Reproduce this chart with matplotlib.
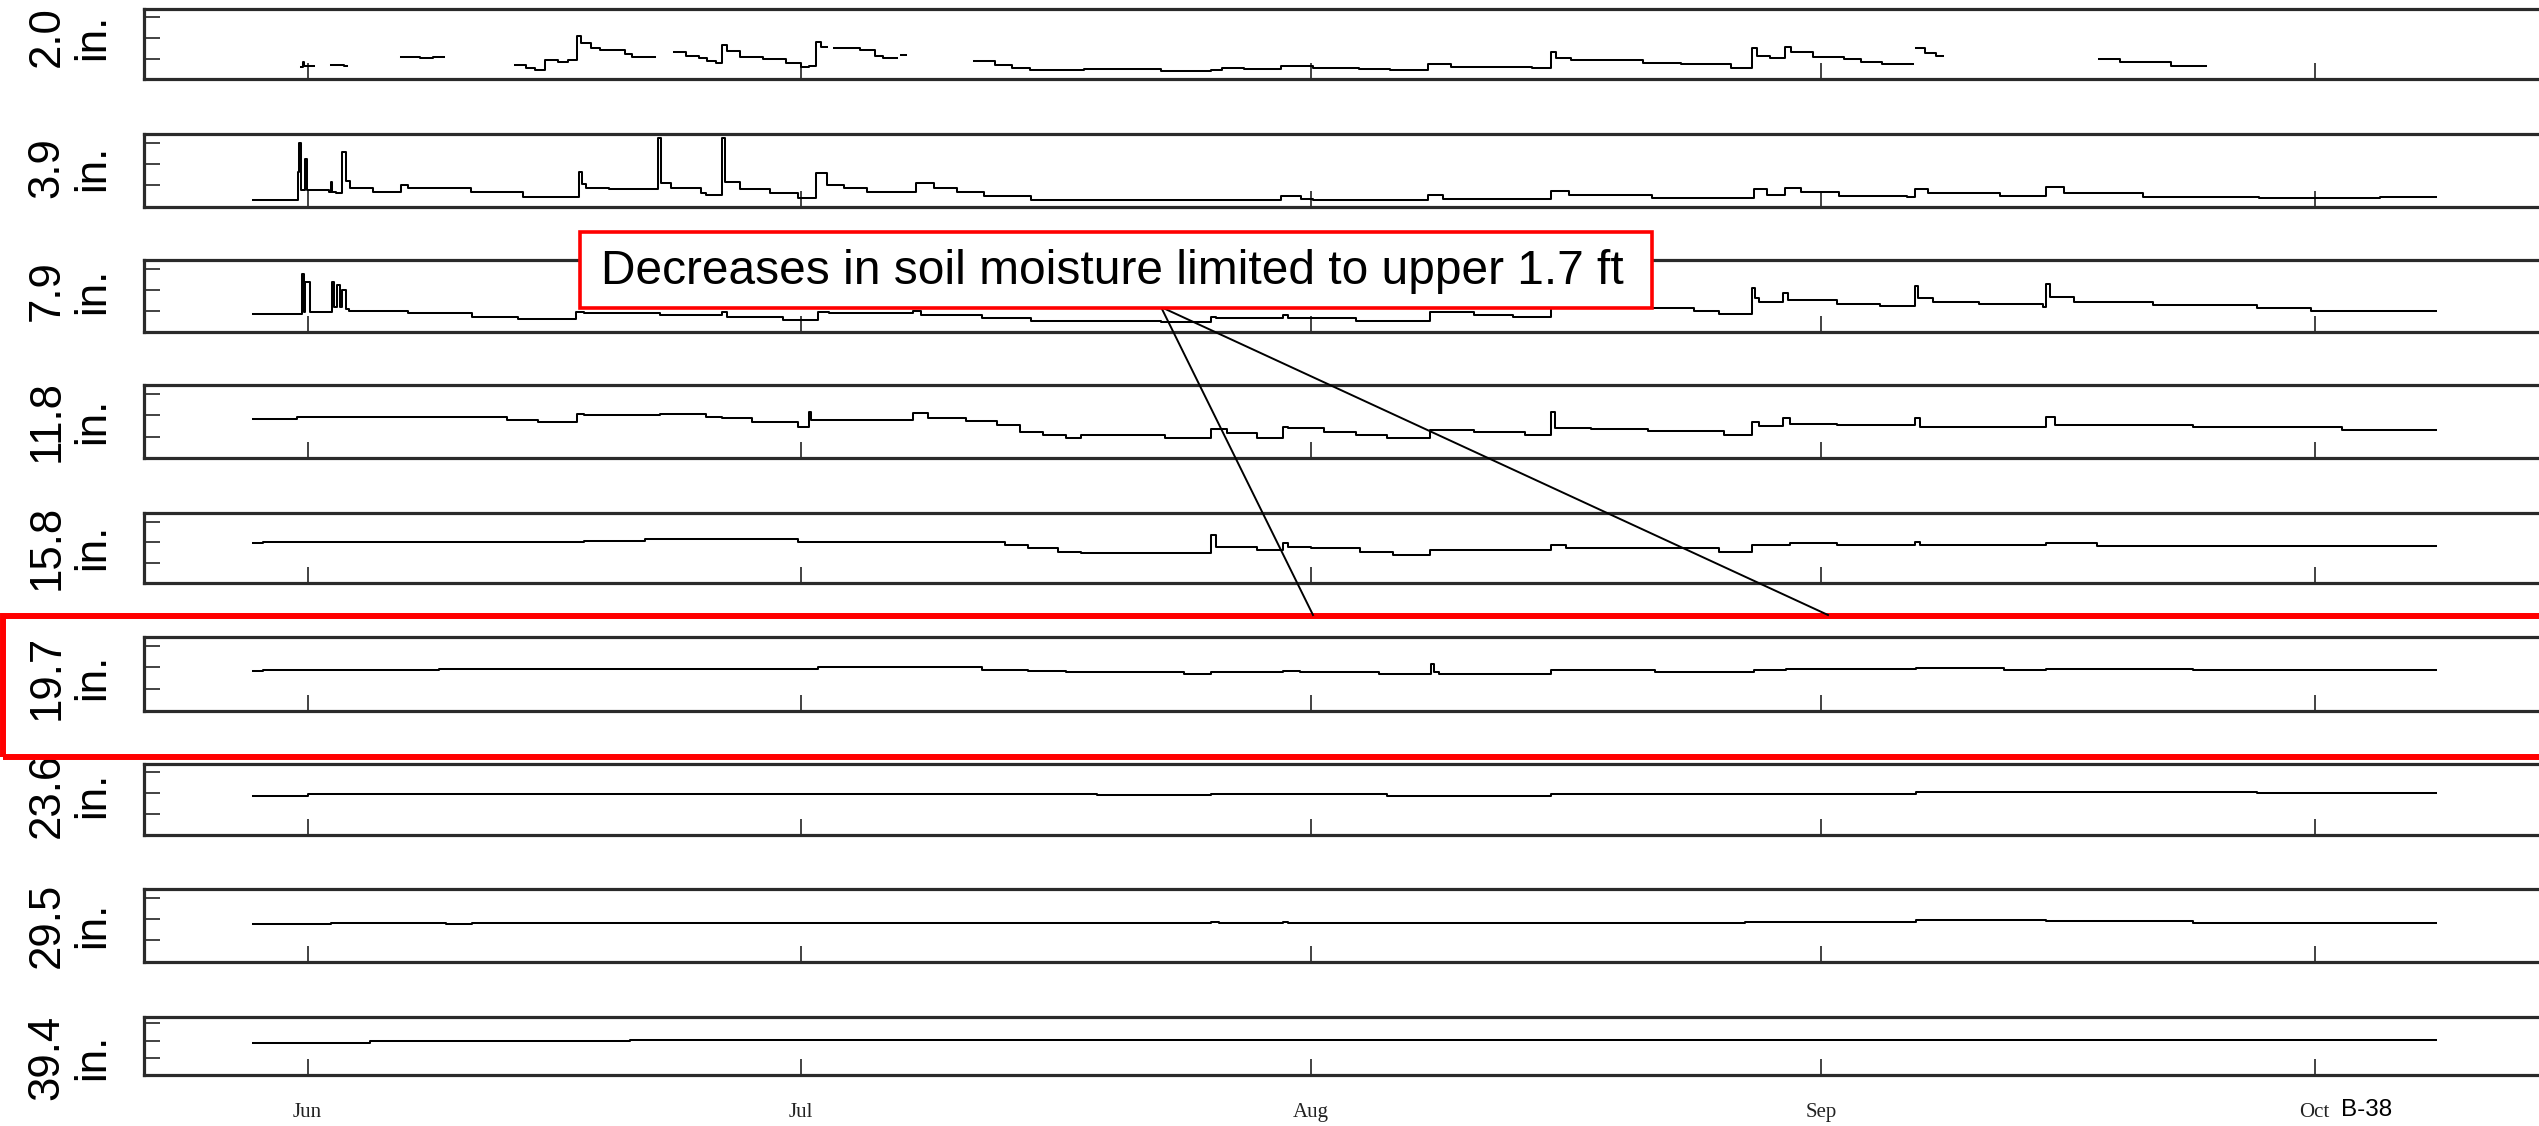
import matplotlib
matplotlib.use('Agg')
import matplotlib.pyplot as plt
from matplotlib import font_manager
from matplotlib.patches import Rectangle
from matplotlib.lines import Line2D
import numpy as np

nan = np.nan

# ---- data: days since 1 Jun, volumetric water content (%) ----
depth_labels = ['2.0\nin.', '3.9\nin.', '7.9\nin.', '11.8\nin.', '15.8\nin.',
                '19.7\nin.', '23.6\nin.', '29.5\nin.', '39.4\nin.']
month_days = [0, 30, 61, 92, 122]
month_names = ['Jun', 'Jul', 'Aug', 'Sep', 'Oct']

d02_day = [-0.4, -0.3, -0.2, 0.4, 1.4, 2.2, 2.4, 5.7, 6.8, 7.6, 8.3,
           12.6, 13.3, 13.8, 14.4, 15.2, 15.8, 16.4, 16.6, 17.2, 17.8, 19.3, 19.7, 21.1,
           22.3, 23.0, 23.8, 24.3, 24.8, 25.2, 25.5, 26.3, 27.7, 29.1, 30.0, 30.5, 30.9, 31.2, 31.6,
           32.0, 33.6, 34.5, 35.0, 35.8, 36.1, 36.4,
           40.5, 41.8, 42.8, 43.9, 47.2, 51.9, 54.9, 55.6, 56.9, 59.2, 61.1, 63.9, 65.8, 68.1,
           69.5, 74.4, 75.6, 75.9, 76.8, 81.2, 83.5, 86.5, 87.8, 88.1, 88.9, 89.8, 90.2, 91.5,
           93.4, 94.4, 95.7, 97.6, 97.8, 98.3, 99.0, 99.4, 108.9, 110.2, 113.3, 115.4]
d02_vwc = [6.1, 8.5, 6.6, nan, 6.9, 6.4, nan, 10.6, 10.2, 10.6, nan,
           6.9, 5.4, 4.5, 9.4, 8.5, 9.1, 20.9, 17.5, 15.0, 14.2, 12.0, 10.9, nan,
           13.4, 11.5, 10.2, 8.8, 7.7, 16.6, 13.5, 10.9, 9.7, 7.7, 6.1, 6.6, 18.2, 15.5, nan,
           15.0, 14.2, 11.5, 10.2, nan, 11.8, nan,
           9.0, 6.9, 5.6, 4.5, 5.0, 4.0, 4.3, 5.3, 4.8, 6.6, 5.6, 5.1, 4.5, 7.4,
           6.1, 5.3, 13.1, 10.5, 9.4, 8.0, 7.4, 5.5, 15.0, 11.5, 10.2, 15.8, 13.4, 10.9,
           9.7, 8.5, 7.2, nan, 15.0, 12.5, 11.2, nan, 9.7, 8.5, 6.4, nan]

d04_day = [-3.3, -0.6, -0.5, -0.4, -0.15, -0.05, 1.3, 1.4, 1.5, 1.7, 2.1, 2.3, 2.6, 4.0,
           5.7, 6.1, 9.9, 13.1, 16.5, 16.7, 16.9, 18.3, 21.3, 21.45, 22.1, 23.9, 24.2,
           25.2, 25.4, 26.3, 28.1, 29.8, 30.9, 31.6, 32.6, 34.0, 37.0, 38.1, 39.5, 41.1,
           44.0, 59.2, 60.4, 61.1, 68.1, 69.0, 75.6, 76.7, 81.7, 87.9, 88.7, 89.8, 90.8,
           93.1, 97.2, 97.7, 98.5, 102.9, 105.7, 106.8, 111.6, 118.6, 126.0, 129.4]
d04_vwc = [3.1, 16.0, 29.7, 8.0, 22.2, 8.0, 7.0, 11.7, 6.8, 6.3, 25.7, 12.0, 8.6, 7.0,
           10.1, 8.6, 7.0, 4.7, 16.4, 10.5, 8.6, 8.1, 32.0, 10.9, 8.6, 6.6, 5.5,
           32.0, 11.7, 8.1, 6.6, 3.9, 15.6, 10.1, 8.6, 7.0, 11.2, 8.6, 7.0, 5.0,
           3.1, 5.0, 3.4, 3.1, 5.5, 3.4, 7.5, 5.5, 4.1, 8.1, 5.5, 8.9, 7.0,
           5.0, 4.4, 8.3, 6.6, 5.0, 9.4, 6.6, 4.7, 4.1, 4.7, 4.7]

d08_day = [-3.3, -0.33, -0.25, -0.15, 0.14, 1.45, 1.6, 1.8, 1.95, 2.1, 2.3, 2.5, 6.1,
           10.0, 12.8, 16.3, 16.8, 21.4, 25.2, 25.5, 28.9, 31.0, 31.7, 36.8, 37.3, 41.0,
           44.0, 51.9, 54.9, 55.2, 59.3, 59.6, 63.7, 68.2, 70.9, 73.3, 75.6, 81.7, 84.3,
           85.8, 87.8, 88.0, 88.2, 89.7, 90.0, 93.0, 95.6, 97.7, 97.9, 98.8, 101.6, 105.5,
           105.7, 105.9, 107.4, 112.2, 118.5, 121.8, 129.4]
d08_vwc = [8.5, 27.4, 9.7, 23.8, 9.7, 23.8, 12.0, 22.2, 12.0, 19.9, 11.0, 10.2, 8.9,
           7.3, 6.1, 9.7, 8.9, 8.0, 9.7, 7.3, 5.8, 9.7, 8.9, 10.2, 8.1, 6.6,
           5.4, 5.0, 7.3, 6.6, 8.1, 6.6, 5.4, 9.7, 8.1, 7.3, 12.5, 11.3, 10.0,
           8.6, 20.7, 16.0, 14.4, 18.3, 15.0, 13.3, 12.4, 21.8, 16.0, 14.4, 13.3, 12.0,
           22.6, 16.5, 14.1, 12.8, 11.3, 10.0, 10.0]

d118_day = [-3.3, -0.65, 12.1, 14.0, 16.4, 16.8, 21.4, 24.2, 25.2, 27.0, 29.8, 30.5,
            30.6, 36.8, 37.7, 40.0, 41.9, 43.3, 44.7, 46.1, 47.0, 52.1, 54.9, 55.9, 57.7,
            59.3, 59.6, 61.8, 63.7, 65.6, 68.2, 70.9, 74.0, 75.6, 75.8, 78.0, 81.5, 86.1,
            87.8, 88.2, 89.7, 90.1, 93.0, 97.7, 98.0, 105.7, 106.2, 114.6, 123.7, 129.4]
d118_vwc = [18.2, 19.0, 17.8, 17.0, 20.4, 20.1, 20.4, 19.3, 18.5, 17.0, 14.7, 21.6,
            17.8, 20.9, 18.5, 17.5, 15.5, 12.4, 10.8, 9.3, 10.8, 9.3, 13.4, 11.9, 9.3,
            14.7, 13.9, 12.4, 10.8, 9.3, 13.1, 12.4, 10.8, 21.6, 13.9, 13.6, 12.8, 10.8,
            17.0, 15.1, 18.5, 15.9, 15.5, 18.5, 14.7, 19.0, 15.5, 14.7, 13.1, 13.1]

d158_day = [-3.3, -2.7, 16.8, 20.5, 29.8, 42.4, 43.8, 45.6, 47.0, 54.9, 55.2, 57.7,
            59.3, 59.6, 61.0, 64.0, 66.0, 68.2, 75.6, 76.5, 85.8, 87.8, 90.1, 93.0,
            97.7, 98.0, 105.7, 108.8, 129.4]
d158_vwc = [19.4, 20.2, 20.6, 21.4, 20.2, 18.6, 17.0, 15.4, 14.6, 23.5, 17.8, 16.2,
            19.4, 17.8, 17.0, 15.4, 13.8, 16.2, 18.6, 17.3, 15.4, 18.6, 19.4, 18.6,
            20.2, 18.6, 19.4, 18.1, 18.1]

d197_day = [-3.3, -2.7, 8.0, 31.0, 41.0, 43.8, 46.1, 53.3, 54.9, 59.3, 60.3, 65.1,
            68.3, 68.5, 68.8, 75.6, 81.9, 87.9, 89.9, 97.8, 103.1, 105.7, 114.6, 129.4]
d197_vwc = [18.4, 18.7, 19.3, 20.3, 19.0, 18.4, 17.7, 16.9, 18.0, 18.4, 18.0, 17.2,
            21.8, 18.0, 17.2, 18.7, 18.0, 18.7, 19.5, 19.8, 18.7, 19.5, 18.7, 18.7]

d236_day = [-3.3, 0.0, 48.0, 54.9, 65.6, 75.6, 97.8, 118.5, 129.4]
d236_vwc = [18.8, 19.6, 19.2, 19.6, 18.8, 19.6, 20.4, 20.0, 20.0]

d295_day = [-3.3, 1.4, 8.4, 10.0, 54.9, 55.4, 59.3, 59.6, 87.4, 97.8, 105.7, 114.6, 129.4]
d295_vwc = [17.6, 18.0, 17.6, 18.2, 18.7, 18.2, 18.7, 18.2, 18.7, 19.5, 19.2, 18.2, 18.2]

d394_day = [-3.3, 3.8, 19.6, 129.4]
d394_vwc = [18.8, 19.8, 20.6, 20.6]

series = [(d02_day, d02_vwc), (d04_day, d04_vwc), (d08_day, d08_vwc),
          (d118_day, d118_vwc), (d158_day, d158_vwc), (d197_day, d197_vwc),
          (d236_day, d236_vwc), (d295_day, d295_vwc), (d394_day, d394_vwc)]

# ---- layout (pixels of the 2539x1126 canvas) ----
W, H = 2539.0, 1126.0
panel_px = [(9, 79.3), (134, 206.7), (260, 332.3), (385, 458.3), (513.3, 583.3),
            (637, 711), (764, 835), (889, 961.7), (1016.5, 1075)]
label_y_px = [37, 168, 291, 421, 547, 677, 795, 925, 1057]
ax_left, ax_right = 144, 2565

names = {f.name for f in font_manager.fontManager.ttflist}
if 'Liberation Sans Narrow' in names:
    label_font, label_size = 'Liberation Sans Narrow', 34
else:
    label_font, label_size = 'Liberation Sans', 31.5

fig = plt.figure(figsize=(W / 100, H / 100), dpi=100)
fig.patch.set_facecolor('white')

for i, ((top, bot), (dd, vv)) in enumerate(zip(panel_px, series)):
    ax = fig.add_axes([ax_left / W, 1 - bot / H, (ax_right - ax_left) / W, (bot - top) / H])
    ax.plot(dd, vv, drawstyle='steps-post', color='black', lw=1.45)
    ax.set_xlim(-9.95, (ax_right - 307.6) / 16.45)
    ax.set_ylim(0, 34)
    ax.set_yticks([0, 10, 20, 30])
    ax.set_xticks(month_days)
    ax.tick_params(axis='both', direction='in', length=11.5, width=1.2, color='#222222',
                   labelleft=False, labelbottom=False)
    for sp in ax.spines.values():
        sp.set_linewidth(2.3)
        sp.set_color('#2a2a2a')
    if i == len(panel_px) - 1:
        ax.tick_params(axis='x', labelbottom=True, pad=20, labelsize=15, labelcolor='#222222')
        ax.set_xticklabels(month_names, fontfamily='Liberation Serif')
    fig.text(70 / W, 1 - label_y_px[i] / H, depth_labels[i], rotation=90, ha='center',
             va='center', multialignment='center', fontsize=label_size,
             fontfamily=label_font, linespacing=1.15, color='black')

# red frame around the 19.7 in. panel
fig.add_artist(Rectangle((2.5 / W, 1 - 756.5 / H), 1.0, 141 / H, transform=fig.transFigure,
                         fill=False, edgecolor='#ff0000', lw=4.3, zorder=5))

# callout
fig.add_artist(Line2D([1161 / W, 1313 / W], [1 - 307 / H, 1 - 615 / H],
                      transform=fig.transFigure, color='black', lw=1.4, zorder=6))
fig.add_artist(Line2D([1161 / W, 1828 / W], [1 - 307 / H, 1 - 615 / H],
                      transform=fig.transFigure, color='black', lw=1.4, zorder=6))
fig.add_artist(Rectangle((580 / W, 1 - 308 / H), 1072 / W, 76 / H, transform=fig.transFigure,
                         facecolor='white', edgecolor='#ff0000', lw=2.6, zorder=7))
fig.text(1112 / W, 1 - 271 / H, 'Decreases in soil moisture limited to upper 1.7 ft',
         ha='center', va='center', fontsize=34.5, fontfamily='Liberation Sans', zorder=8)

fig.text(2367 / W, 1 - 1110 / H, 'B-38', ha='center', va='center', fontsize=17.5,
         fontfamily='Liberation Sans')

fig.savefig('out.png', dpi=100)
